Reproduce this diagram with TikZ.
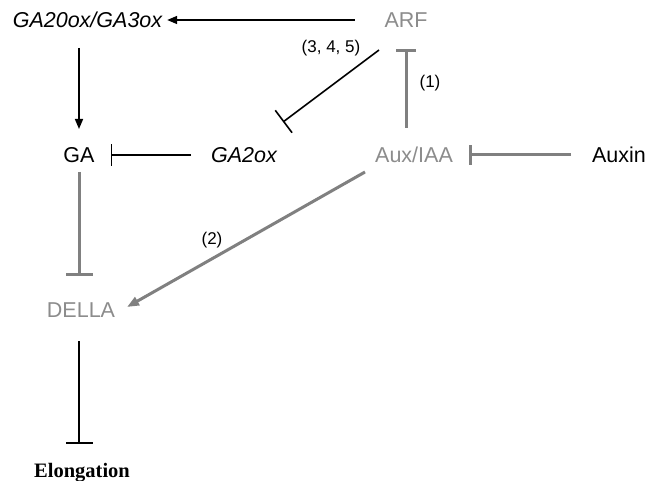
\documentclass[tikz,border=0pt]{standalone}
\usepackage{fontspec}
\setmainfont{Liberation Sans}
\newfontfamily\timesfont{Liberation Serif}
\usetikzlibrary{arrows.meta,calc}
\definecolor{txtgray}{HTML}{8C8C8C}
\definecolor{lngray}{HTML}{808080}
\begin{document}
\begin{tikzpicture}[x=1pt,y=-1pt,
  gene/.style={inner sep=0pt, outer sep=0pt, text height=15pt, text depth=0pt, font=\fontsize{21.5}{25}\selectfont},
  grayt/.style={gene, text=txtgray},
  lbl/.style={inner sep=0pt, font=\fontsize{17}{20}\selectfont},
  blk/.style={line width=1.6pt, black},
  gry/.style={line width=3pt, lngray},
  act/.style={-{Triangle[length=10pt,width=8pt]}},
  inh/.style={-{Bar[width=#1]}}
]
\useasboundingbox[fill=white] (0,0) rectangle (650,481);

% nodes
\node[gene] (ga20) at (87.5,20) {\itshape GA20ox/GA3ox};
\node[grayt] (arf) at (406,20) {ARF};
\node[gene] (ga) at (79,155) {GA};
\node[gene] (ga2ox) at (244,155) {\itshape GA2ox};
\node[grayt] (aux) at (414,155) {Aux/IAA};
\node[gene] (auxin) at (619,155) {Auxin};
\node[grayt] (della) at (81,310) {DELLA};
\node[gene, text height=14pt, font=\timesfont\bfseries\fontsize{20.5}{24}\selectfont] (elong) at (82,470) {Elongation};

% labels
\node[lbl] (l345) at (331,48) {(3, 4, 5)};
\node[lbl] (l1) at (430,83) {(1)};
\node[lbl] (l2) at (212,240) {(2)};

% connectors
\draw[blk, act, shorten <=30pt, shorten >=5pt] (arf.west) -- (ga20.east);
\draw[blk, act, shorten <=20.5pt, shorten >=18.5pt] (ga20.south -| ga.north) -- (ga.north);
\draw[blk, inh=22pt, shorten <=20pt, shorten >=16pt] (ga2ox.west) -- (ga.east);
\draw[blk, inh=28pt] ($(arf)+(-27,30)$) -- ($(ga2ox)+(39,-33)$);
\draw[gry, inh=20pt, shorten <=19.5pt, shorten >=21.5pt] (aux.north -| arf.south) -- (arf.south);
\draw[gry, inh=20pt, shorten <=21pt, shorten >=16pt] (auxin.west) -- (aux.east);
\draw[gry, inh=27pt, shorten <=9.5pt, shorten >=26.5pt] (ga.south) -- (ga.south |- della.north);
\draw[gry, -{Triangle[length=12pt,width=9pt]}] ($(aux)+(-49,17)$) -- ($(della)+(46,-3)$);
\draw[blk, inh=27pt, shorten <=23.5pt, shorten >=19pt] (ga.south |- della.south) -- (ga.south |- elong.north);
\end{tikzpicture}
\end{document}
